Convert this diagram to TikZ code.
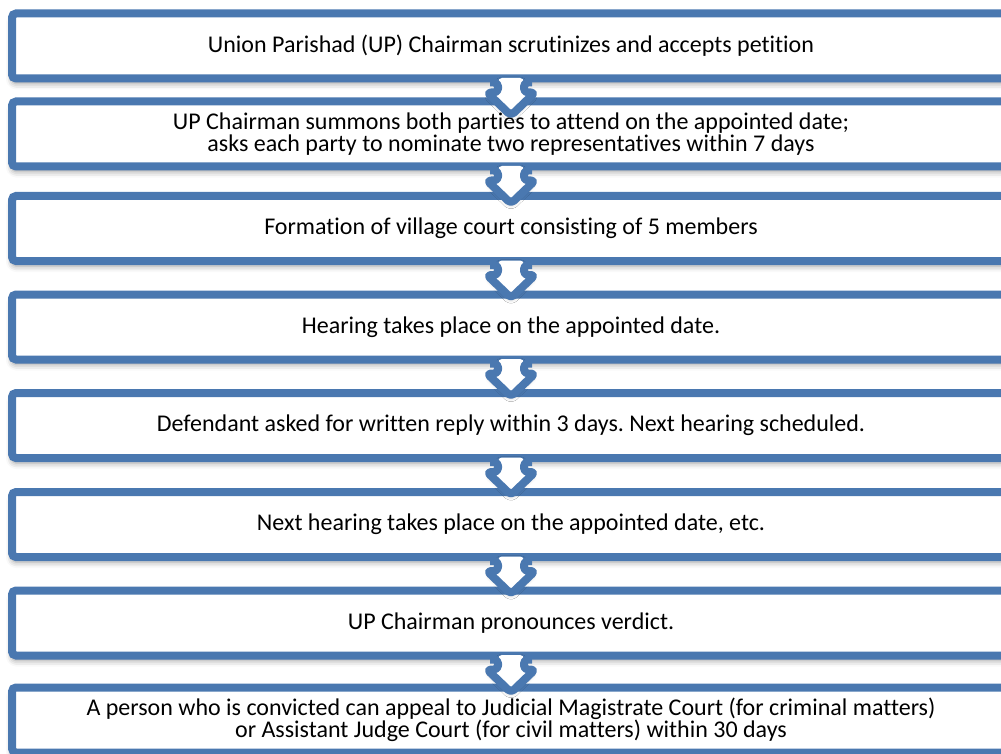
\documentclass[tikz,border=0pt]{standalone}
\usepackage{fontspec}
\setmainfont[Ligatures=NoCommon]{Carlito}
\usetikzlibrary{calc,shadows.blur}

\definecolor{upblue}{RGB}{74,120,176}

\tikzset{
  stepbox/.style={draw=upblue, line width=8pt, rounded corners=4pt, fill=white,
    minimum width=998pt, minimum height=65pt, inner sep=0pt, align=center,
    font=\fontsize{24}{22.5}\selectfont,
    blur shadow={shadow xshift=0pt, shadow yshift=-5pt, shadow blur radius=6pt, shadow opacity=40}},
  arrowfill/.style={fill=white, rounded corners=4pt,
    blur shadow={shadow xshift=0pt, shadow yshift=-3pt, shadow blur radius=4pt, shadow opacity=25}},
  arrowline/.style={draw=upblue, line width=8pt, rounded corners=4pt, line join=round},
}

\newcommand\steparrow[1]{%
  \fill[arrowfill] ($(#1.south)+(-13,-4.5)$) -- ++(0,14.5) -- ++(-11,0) -- ++(24,23)
    -- ++(24,-23) -- ++(-11,0) -- ++(0,-14.5) -- cycle;
  \draw[arrowline] ($(#1.south)+(-21,0)$) -- ++(8,0) -- ++(0,10) -- ++(-11,0) -- ++(24,23)
    -- ++(24,-23) -- ++(-11,0) -- ++(0,-10) -- ++(8,0);
}

\begin{document}
\frenchspacing
\begin{tikzpicture}[x=1pt, y=-1pt]

\useasboundingbox (0,0) rectangle (1001,754);
\clip (0,0) rectangle (1001,754);

\node[stepbox] (chair) at (511,46) {Union Parishad (UP) Chairman scrutinizes and accepts petition};

\node[stepbox] (summon) at (511,134) {UP Chairman summons both parties to attend on the appointed date;\\asks each party to nominate two representatives within 7 days};

\node[stepbox] (court) at (511,228.5) {Formation of village court consisting of 5 members};

\node[stepbox] (hearing) at (511,327) {Hearing takes place on the appointed date.};

\node[stepbox] (reply) at (511,425.5) {Defendant asked for written reply within 3 days. Next hearing scheduled.};

\node[stepbox] (next) at (511,524.5) {Next hearing takes place on the appointed date, etc.};

\node[stepbox] (verdict) at (511,623) {UP Chairman pronounces verdict.};

\node[stepbox] (appeal) at (511,720) {A person who is convicted can appeal to Judicial Magistrate Court (for criminal matters)\\or Assistant Judge Court (for civil matters) within 30 days};

\foreach \s in {chair,summon,court,hearing,reply,next,verdict}
  \steparrow{\s};

\end{tikzpicture}
\end{document}
